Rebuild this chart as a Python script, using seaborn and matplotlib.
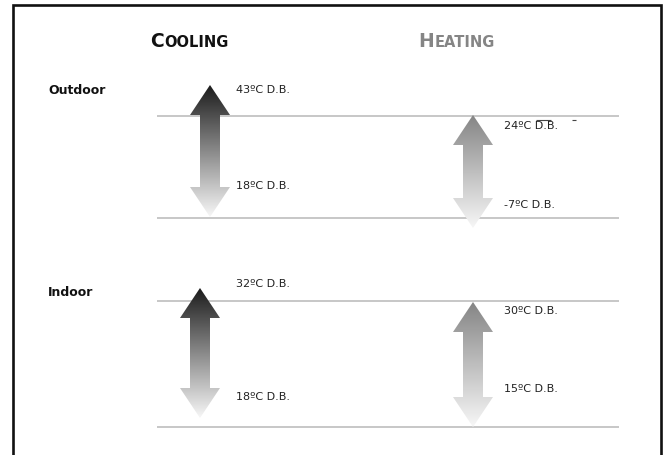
import numpy as np
import matplotlib
matplotlib.use("Agg")
import matplotlib.pyplot as plt
from matplotlib.patches import Polygon
from matplotlib.colors import to_rgb
import seaborn as sns

# operating ranges (ºC D.B.)
modes = ["Cooling", "Heating"]
zones = ["Outdoor", "Indoor"]
outdoor_max = [43, 24]
outdoor_min = [18, -7]
indoor_max = [32, 30]
indoor_min = [18, 15]

# layout in pixel units (figure is 664 x 455)
arrow_x = {("Outdoor", "Cooling"): 210, ("Outdoor", "Heating"): 473,
           ("Indoor", "Cooling"): 200, ("Indoor", "Heating"): 473}
arrow_y = {("Outdoor", "Cooling"): (85, 217), ("Outdoor", "Heating"): (115, 228),
           ("Indoor", "Cooling"): (288, 418), ("Indoor", "Heating"): (302, 427)}
label_y = {("Outdoor", "Cooling"): (90, 186), ("Outdoor", "Heating"): (126, 205),
           ("Indoor", "Cooling"): (284, 397), ("Indoor", "Heating"): (311, 389)}
label_x = {"Cooling": 236, "Heating": 504}
zone_y = {"Outdoor": 90, "Indoor": 292}
rule_y = [116, 218, 301, 427]
top_color = {"Cooling": "#1c1c1c", "Heating": "#858585"}

sns.set_theme(style="white")
plt.rcParams["font.family"] = ["DejaVu Sans"]

fig = plt.figure(figsize=(6.64, 4.55), dpi=100)
ax = fig.add_axes([0, 0, 1, 1])
ax.set_xlim(0, 664)
ax.set_ylim(455, 0)
ax.axis("off")

# frame
ax.plot([12.5, 12.5, 661, 661], [460, 5, 5, 460], color="#111111", lw=1.9,
        solid_joinstyle="miter")

# horizontal rules
ax.hlines(rule_y, 157, 619, color="#bdbdbd", lw=1.2)


def gradient_arrow(cx, yt, yb, c_top):
    hw, sw, hl = 20, 10, 30
    verts = [(cx, yt), (cx + hw, yt + hl), (cx + sw, yt + hl), (cx + sw, yb - hl),
             (cx + hw, yb - hl), (cx, yb), (cx - hw, yb - hl), (cx - sw, yb - hl),
             (cx - sw, yt + hl), (cx - hw, yt + hl)]
    poly = Polygon(verts, closed=True, facecolor="none", edgecolor="none")
    ax.add_patch(poly)
    n = 200
    t = np.linspace(0, 1, n)[:, None]
    c0 = np.array(to_rgb(c_top))
    c1 = np.array(to_rgb("#f7f7f7"))
    rgb = c0 * (1 - t) + c1 * t
    img = np.repeat(rgb[:, None, :], 2, axis=1)
    im = ax.imshow(img, extent=(cx - hw, cx + hw, yb, yt), aspect="auto",
                   interpolation="bilinear", zorder=2)
    im.set_clip_path(poly)


for zone, hi_vals, lo_vals in [("Outdoor", outdoor_max, outdoor_min),
                               ("Indoor", indoor_max, indoor_min)]:
    ax.text(48, zone_y[zone], zone, fontsize=9, fontweight="bold",
            color="#111111", va="center", ha="left")
    for i, mode in enumerate(modes):
        yt, yb = arrow_y[(zone, mode)]
        gradient_arrow(arrow_x[(zone, mode)], yt, yb, top_color[mode])
        ly_hi, ly_lo = label_y[(zone, mode)]
        ax.text(label_x[mode], ly_hi, f"{hi_vals[i]}ºC D.B.", fontsize=8,
                color="#222222", va="center", ha="left", zorder=3)
        ax.text(label_x[mode], ly_lo, f"{lo_vals[i]}ºC D.B.", fontsize=8,
                color="#222222", va="center", ha="left", zorder=3)

# small stray marks next to the 24ºC label
ax.hlines([120, 120], [536, 572], [551, 576], color="#444444", lw=0.8)

# small-caps headings
title_x = {"Cooling": 150, "Heating": 418}
title_color = {"Cooling": "#111111", "Heating": "#858585"}
for mode in modes:
    t1 = ax.text(title_x[mode], 47, mode[0], fontsize=13.5, fontweight="bold",
                 color=title_color[mode], va="baseline", ha="left")
    fig.canvas.draw()
    bb = t1.get_window_extent()
    x_next = bb.x1 + 0.5
    ax.text(x_next, 47, mode[1:].upper(), fontsize=10.5, fontweight="bold",
            color=title_color[mode], va="baseline", ha="left")

fig.savefig("out.png", dpi=100)
